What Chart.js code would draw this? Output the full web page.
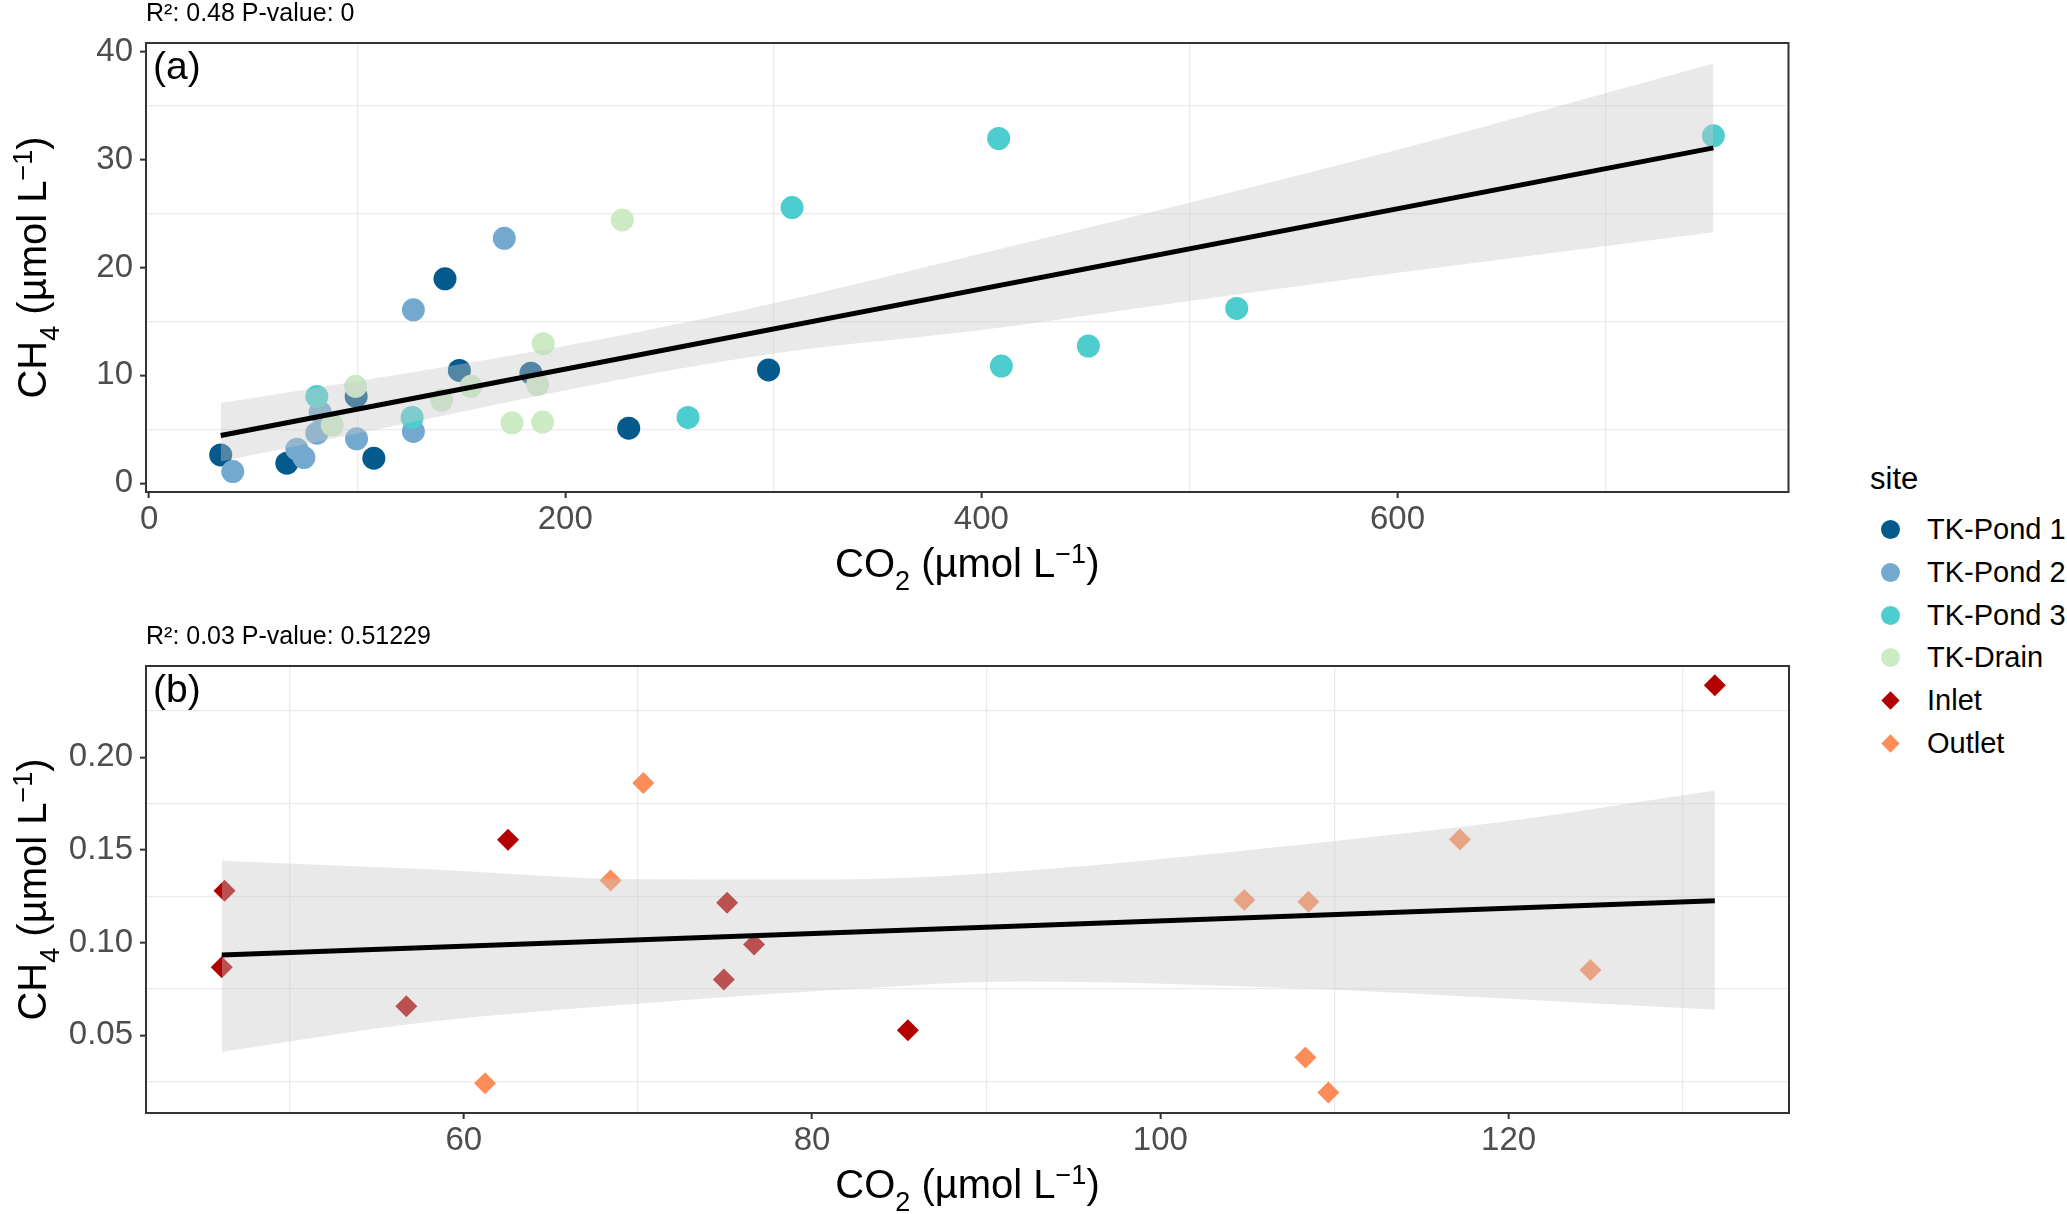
<!DOCTYPE html>
<html>
<head>
<meta charset="utf-8">
<script src="https://cdn.jsdelivr.net/npm/chart.js@4.4.1/dist/chart.umd.min.js"></script>
<style>
    body { margin: 0; background: #fff; width: 2067px; height: 1214px; position: relative; overflow: hidden; font-family: "Liberation Sans", Arial, sans-serif; }
    canvas { position: absolute; left: 0; }
    #legend { position: absolute; left: 1870px; top: 455px; color: #000; }
    .legTitle { font-size: 31px; height: 53px; line-height: 48px; }
    .legRow { position: relative; height: 42.8px; line-height: 42.8px; font-size: 29px; padding-left: 57px; }
    .dot { position: absolute; left: 11px; top: 12px; width: 19px; height: 19px; border-radius: 50%; }
    .dia { position: absolute; left: 14px; top: 15px; width: 13px; height: 13px; transform: rotate(45deg); }
</style>
</head>
<body>
<canvas id="chartA" width="1800" height="600" style="top:0"></canvas>
<canvas id="chartB" width="1800" height="604" style="top:610px"></canvas>
<div id="legend"></div>
<script>
// panel (a): CO2 vs CH4 at the TK sites
const pond1CO2 = [34.4, 66.2, 99.5, 108, 142.2, 149.1, 183.5, 230.5, 297.7];
const pond1CH4 = [2.63, 1.86, 8.05, 2.32, 18.95, 10.46, 10.2, 5.1, 10.5];
const pond2CO2 = [40.2, 71.0, 74.4, 80.6, 82.2, 99.7, 127.0, 127.0, 170.7];
const pond2CH4 = [1.08, 3.16, 2.38, 4.64, 6.56, 4.12, 16.07, 4.8, 22.7];
const pond3CO2 = [80.6, 126.4, 259, 309, 408.3, 409.6, 451.4, 522.7, 751.8];
const pond3CH4 = [8.05, 6.1, 6.1, 25.55, 31.95, 10.86, 12.72, 16.2, 32.2];
const drainCO2 = [88, 99.2, 140.6, 154.7, 174.4, 186.7, 189.1, 189.4, 227.4];
const drainCH4 = [5.39, 8.98, 7.71, 8.98, 5.6, 9.13, 5.67, 12.94, 24.4];

// fitted line + 95% band
const fitAX = [34.4, 751.8];
const fitAY = [4.43, 31.08];
const bandAX = [34.4, 100, 226, 303, 400, 500, 600, 751.8];
const bandAUpper = [7.43, 9.45, 13.68, 16.8, 21.3, 26.0, 30.9, 38.9];
const bandALower = [2.01, 4.6, 9.6, 12.1, 14.2, 16.9, 19.5, 23.27];

// panel (b): inlet / outlet
const inletCO2 = [46.26, 46.1, 56.7, 62.54, 74.93, 75.12, 76.67, 85.5, 131.84];
const inletCH4 = [0.1279, 0.0867, 0.0656, 0.1554, 0.080, 0.1214, 0.0989, 0.0527, 0.2388];
const outletCO2 = [61.22, 68.43, 70.31, 104.82, 108.33, 108.5, 109.65, 117.2, 124.7];
const outletCH4 = [0.024, 0.1334, 0.186, 0.1229, 0.038, 0.122, 0.0191, 0.1556, 0.0852];

const fitBX = [46.1, 131.84];
const fitBY = [0.0933, 0.1225];
const bandBX = [46.1, 57.9, 70, 81, 92, 110, 120, 131.84];
const bandBUpper = [0.1441, 0.1395, 0.1341, 0.134, 0.1386, 0.1548, 0.1655, 0.182];
const bandBLower = [0.0410, 0.0571, 0.067, 0.0742, 0.079, 0.0745, 0.0696, 0.0637];

// ticks (major = labelled, minor = grid line only)
const xMajorA = [0, 200, 400, 600];
const xMinorA = [100, 300, 500, 700];
const yMajorA = [0, 10, 20, 30, 40];
const yMinorA = [5, 15, 25, 35];
const xMajorB = [60, 80, 100, 120];
const xMinorB = [50, 70, 90, 110, 130];
const yMajorB = [0.05, 0.10, 0.15, 0.20];
const yMinorB = [0.025, 0.075, 0.125, 0.175, 0.225];

const sites = ['TK-Pond 1', 'TK-Pond 2', 'TK-Pond 3', 'TK-Drain', 'Inlet', 'Outlet'];
const colors = {
    'TK-Pond 1': '#045a8d',
    'TK-Pond 2': '#74a9cf',
    'TK-Pond 3': '#4ecdcf',
    'TK-Drain': '#ccebc5',
    'Inlet': '#b30000',
    'Outlet': '#fc8d59'
};

const FONT = '"Liberation Sans", Arial, sans-serif';
const toXY = (xs, ys) => xs.map((x, i) => ({ x: x, y: ys[i] }));

// text with sub/superscripts, centred on cx, baseline at cy
function drawRich(ctx, parts, cx, cy, rot) {
    ctx.save();
    ctx.translate(cx, cy);
    ctx.rotate(rot);
    ctx.fillStyle = '#000';
    ctx.textBaseline = 'alphabetic';
    ctx.textAlign = 'left';
    const fontOf = (s) => (s === 0 ? '40px ' : '27px ') + FONT;
    const widths = parts.map(p => { ctx.font = fontOf(p[1]); return ctx.measureText(p[0]).width; });
    let x = -widths.reduce((a, b) => a + b, 0) / 2;
    parts.forEach((p, i) => {
        ctx.font = fontOf(p[1]);
        const dy = p[1] === -1 ? 13 : (p[1] === 1 ? -14 : 0);
        ctx.fillText(p[0], x, dy);
        x += widths[i];
    });
    ctx.restore();
}

const xTitle = [['CO', 0], ['2', -1], [' (\u00b5mol L', 0], ['\u22121', 1], [')', 0]];
const yTitle = [['CH', 0], ['4', -1], [' (\u00b5mol L', 0], ['\u22121', 1], [')', 0]];

const panelDecor = {
    id: 'panelDecor',
    afterDraw(chart, args, opts) {
        const ctx = chart.ctx;
        const a = chart.chartArea;
        ctx.save();
        ctx.strokeStyle = '#333';
        ctx.lineWidth = 2;
        ctx.strokeRect(a.left, a.top, a.right - a.left, a.bottom - a.top);
        ctx.fillStyle = '#000';
        ctx.font = '25px ' + FONT;
        ctx.textBaseline = 'middle';
        ctx.fillText(opts.stats, a.left, opts.statsY);
        ctx.font = '39px ' + FONT;
        ctx.textBaseline = 'alphabetic';
        ctx.fillText(opts.tag, a.left + 7, a.top + 36);
        ctx.restore();
        drawRich(ctx, xTitle, (a.left + a.right) / 2, a.bottom + 85, 0);
        drawRich(ctx, yTitle, 46, (a.top + a.bottom) / 2, -Math.PI / 2);
    }
};

function axis(min, max, majors, minors, fmt, isX, size) {
    const isMajor = (v) => majors.some(m => Math.abs(m - v) < 1e-9);
    return {
        type: 'linear',
        min: min,
        max: max,
        afterBuildTicks: (s) => {
            s.ticks = majors.concat(minors).sort((p, q) => p - q).map(v => ({ value: v }));
        },
        afterFit: (s) => {
            if (isX) s.height = size; else s.width = size;
        },
        border: { display: false },
        grid: {
            color: (c) => (c.tick && isMajor(c.tick.value)) ? 'rgba(0,0,0,0)' : '#ebebeb',
            lineWidth: 1.3,
            tickColor: (c) => (c.tick && isMajor(c.tick.value)) ? '#333' : 'rgba(0,0,0,0)',
            tickLength: 6,
            tickWidth: 2
        },
        ticks: {
            autoSkip: false,
            maxRotation: 0,
            minRotation: 0,
            padding: isX ? 2 : 7,
            color: '#4d4d4d',
            font: { family: FONT, size: 33 },
            callback: (v) => isMajor(v) ? fmt(v) : ''
        }
    };
}

function pointSet(site, xs, ys, style, r, order) {
    return {
        label: site,
        data: toXY(xs, ys),
        pointStyle: style,
        pointRadius: r,
        pointBorderWidth: 0,
        backgroundColor: colors[site],
        borderColor: colors[site],
        order: order
    };
}

function fitSets(fx, fy, bx, bu, bl) {
    return [
        { data: toXY(fx, fy), showLine: true, borderColor: '#000', borderWidth: 5, pointRadius: 0, order: 0 },
        { data: toXY(bx, bu), showLine: true, borderWidth: 0, borderColor: 'rgba(0,0,0,0)', pointRadius: 0,
          cubicInterpolationMode: 'monotone', fill: '+1', backgroundColor: 'rgba(200,200,200,0.4)', order: 1 },
        { data: toXY(bx, bl), showLine: true, borderWidth: 0, borderColor: 'rgba(0,0,0,0)', pointRadius: 0,
          cubicInterpolationMode: 'monotone', fill: false, order: 1 }
    ];
}

function makePanel(id, datasets, xAxis, yAxis, padTop, decor) {
    return new Chart(document.getElementById(id), {
        type: 'scatter',
        data: { datasets: datasets },
        options: {
            responsive: false,
            animation: false,
            events: [],
            layout: { padding: { top: padTop, right: 8, left: 0, bottom: 0 } },
            plugins: {
                legend: { display: false },
                tooltip: { enabled: false },
                panelDecor: decor
            },
            scales: { x: xAxis, y: yAxis }
        },
        plugins: [panelDecor]
    });
}

makePanel('chartA',
    fitSets(fitAX, fitAY, bandAX, bandAUpper, bandALower).concat([
        pointSet('TK-Pond 1', pond1CO2, pond1CH4, 'circle', 11.5, 5),
        pointSet('TK-Pond 2', pond2CO2, pond2CH4, 'circle', 11.5, 4),
        pointSet('TK-Pond 3', pond3CO2, pond3CH4, 'circle', 11.5, 3),
        pointSet('TK-Drain', drainCO2, drainCH4, 'circle', 11.5, 2)
    ]),
    axis(-1.5, 787.9, xMajorA, xMinorA, v => String(v), true, 108),
    axis(-0.81, 40.8, yMajorA, yMinorA, v => String(v), false, 146),
    43,
    { stats: 'R\u00b2: 0.48 P-value: 0', statsY: 14, tag: '(a)' }
);

makePanel('chartB',
    fitSets(fitBX, fitBY, bandBX, bandBUpper, bandBLower).concat([
        pointSet('Inlet', inletCO2, inletCH4, 'rectRot', 11, 3),
        pointSet('Outlet', outletCO2, outletCH4, 'rectRot', 11, 2)
    ]),
    axis(41.75, 136.1, xMajorB, xMinorB, v => String(v), true, 101),
    axis(0.008, 0.2492, yMajorB, yMinorB, v => v.toFixed(2), false, 146),
    56,
    { stats: 'R\u00b2: 0.03 P-value: 0.51229', statsY: 27, tag: '(b)' }
);

// legend
const legend = document.getElementById('legend');
let html = '<div class="legTitle">site</div>';
sites.forEach((s, i) => {
    const cls = i < 4 ? 'dot' : 'dia';
    html += '<div class="legRow"><span class="' + cls + '" style="background:' + colors[s] + '"></span>' + s + '</div>';
});
legend.innerHTML = html;
</script>
</body>
</html>
